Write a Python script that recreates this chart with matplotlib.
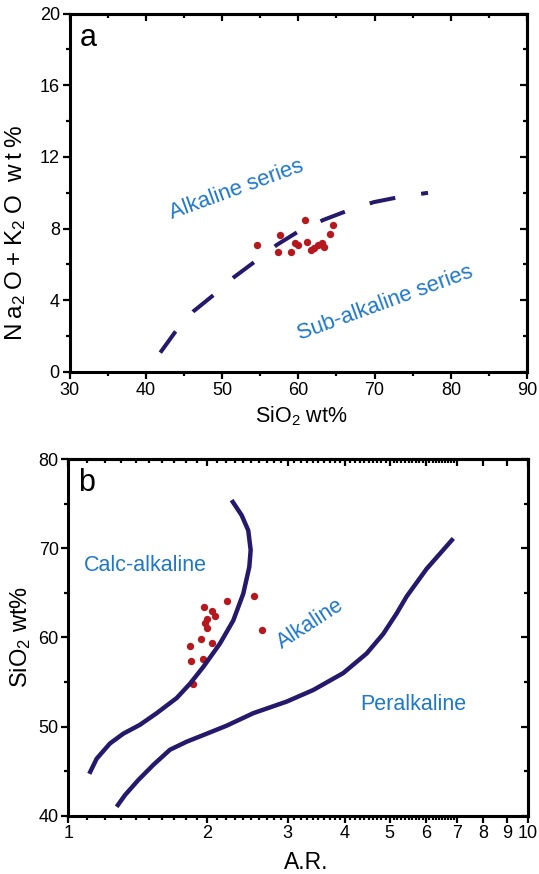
import matplotlib
matplotlib.use('Agg')
import matplotlib.pyplot as plt
import numpy as np

plt.rcParams['font.family'] = ['Liberation Sans', 'DejaVu Sans']
plt.rcParams['mathtext.fontset'] = 'custom'
plt.rcParams['mathtext.rm'] = 'Liberation Sans'

# panel a: TAS alkaline / sub-alkaline boundary and samples
line_a_x = [41.9, 43.8, 46.2, 48.9, 51.5, 54.3, 57.2, 60.0, 63.3, 66.5, 69.9, 73.2, 77.0]
line_a_y = [1.08, 2.2, 3.37, 4.3, 5.27, 6.16, 7.1, 7.84, 8.49, 9.01, 9.48, 9.76, 10.0]
sio2_a = [54.6, 57.6, 57.3, 59.1, 59.5, 59.9, 60.9, 61.1, 61.6, 62.0, 62.6, 63.1, 63.3, 64.2, 64.6]
alk_a = [7.09, 7.62, 6.72, 6.72, 7.22, 7.06, 8.49, 7.28, 6.82, 6.92, 7.09, 7.19, 7.0, 7.71, 8.21]

# panel b: Wright (1969) alkalinity ratio diagram
curve1_ar = [1.11, 1.152, 1.231, 1.316, 1.431, 1.556, 1.72, 1.838, 1.966, 2.136, 2.284, 2.401, 2.475, 2.492, 2.462, 2.382, 2.265]
curve1_si = [44.7, 46.4, 48.1, 49.2, 50.2, 51.5, 53.2, 54.8, 56.7, 59.3, 61.9, 64.9, 67.9, 69.8, 72.0, 73.7, 75.4]
curve2_ar = [1.273, 1.327, 1.419, 1.53, 1.663, 1.808, 2.0, 2.21, 2.525, 2.985, 3.41, 3.963, 4.457, 4.843, 5.18, 5.446, 6.02, 6.88]
curve2_si = [41.0, 42.3, 44.0, 45.7, 47.4, 48.3, 49.2, 50.1, 51.5, 52.8, 54.1, 56.0, 58.2, 60.4, 62.7, 64.6, 67.7, 71.1]
ar_b = [1.972, 2.049, 2.084, 2.0, 1.982, 2.0, 2.21, 2.533, 2.633, 1.94, 2.049, 1.838, 1.848, 1.966, 1.869]
sio2_b = [63.4, 63.0, 62.4, 62.1, 61.6, 61.0, 64.1, 64.6, 60.8, 59.8, 59.4, 59.0, 57.3, 57.6, 54.8]

navy = '#24196b'
red = '#b5191e'
blue = '#1e78c8'

fig = plt.figure(figsize=(5.39, 8.74), dpi=100)

# ---------- a ----------
ax1 = fig.add_axes([0.129, 0.5744, 0.849, 0.410])
ax1.scatter(sio2_a, alk_a, s=28, color=red, zorder=2, linewidths=0)
ax1.plot(line_a_x, line_a_y, color=navy, lw=2.9, linestyle=(0, (6.5, 6.5)), zorder=3)
ax1.set_xlim(30, 90)
ax1.set_ylim(0, 20)
ax1.set_xticks([30, 40, 50, 60, 70, 80, 90])
ax1.set_xticks([35, 45, 55, 65, 75, 85], minor=True)
ax1.set_yticks([0, 4, 8, 12, 16, 20])
ax1.set_yticks([2, 6, 10, 14, 18], minor=True)
ax1.set_xlabel(r'SiO$\mathregular{_2}$ wt%', fontsize=15.5)
ax1.xaxis.set_label_coords(0.507, -0.09)
ax1.set_ylabel(r'$\mathregular{N\:a_2\:O\:{+}\:K_2\:O\ \:w\:t\:\%}$', fontsize=17.5)
ax1.yaxis.set_label_coords(-0.09, 0.39)
ax1.text(0.022, 0.975, 'a', transform=ax1.transAxes, fontsize=22, va='top', ha='left')
ax1.text(51.9, 10.15, 'Alkaline series', color=blue, fontsize=15.8, rotation=20,
         ha='center', va='center', rotation_mode='anchor')
ax1.text(71.4, 3.85, 'Sub-alkaline series', color=blue, fontsize=15.8, rotation=20,
         ha='center', va='center', rotation_mode='anchor')

# ---------- b ----------
ax2 = fig.add_axes([0.127, 0.0667, 0.8525, 0.408])
ax2.set_xscale('log')
ax2.plot(curve1_ar, curve1_si, color=navy, lw=3.2, zorder=3, solid_capstyle='butt')
ax2.plot(curve2_ar, curve2_si, color=navy, lw=3.2, zorder=3, solid_capstyle='butt')
ax2.scatter(ar_b, sio2_b, s=28, color=red, zorder=2, linewidths=0)
ax2.set_xlim(1, 10)
ax2.set_ylim(40, 80)
xt = [1, 2, 3, 4, 5, 6, 7, 8, 9, 10]
ax2.set_xticks(xt)
ax2.set_xticklabels([str(v) for v in xt])
minor = [round(v, 1) for v in np.arange(1.1, 7.0, 0.1) if abs(v - round(v)) > 0.01]
ax2.set_xticks(minor, minor=True)
ax2.xaxis.set_minor_formatter(matplotlib.ticker.NullFormatter())
ax2.set_yticks([40, 50, 60, 70, 80])
ax2.set_yticks([45, 55, 65, 75], minor=True)
ax2.set_xlabel('A.R.', fontsize=16.5)
ax2.xaxis.set_label_coords(0.517, -0.1)
ax2.set_ylabel(r'SiO$\mathregular{_2}$ wt%', fontsize=17, labelpad=4)
ax2.text(0.022, 0.975, 'b', transform=ax2.transAxes, fontsize=22, va='top', ha='left')
ax2.text(1.08, 68.1, 'Calc-alkaline', color=blue, fontsize=15.5, ha='left', va='center')
ax2.text(3.36, 61.5, 'Alkaline', color=blue, fontsize=15.5, rotation=33,
         ha='center', va='center', rotation_mode='anchor')
ax2.text(5.62, 52.5, 'Peralkaline', color=blue, fontsize=15.5, ha='center', va='center')

for ax in (ax1, ax2):
    for sp in ax.spines.values():
        sp.set_linewidth(2.2)
    ax.tick_params(which='both', labelsize=13, width=1.6, direction='out',
                   top=False, right=False, pad=2)
    ax.tick_params(which='major', length=5)
    ax.tick_params(which='minor', length=3)
    # inward ticks on top and right edges
    sec_x = ax.secondary_xaxis('top')
    sec_x.set_xticks(ax.get_xticks())
    sec_x.set_xticks(ax.get_xticks(minor=True), minor=True)
    sec_x.tick_params(which='both', direction='in', labeltop=False, width=1.6)
    sec_x.tick_params(which='major', length=5)
    sec_x.tick_params(which='minor', length=3)
    sec_x.xaxis.set_minor_formatter(matplotlib.ticker.NullFormatter())
    sec_x.spines['top'].set_linewidth(2.2)
    sec_y = ax.secondary_yaxis('right')
    sec_y.set_yticks(ax.get_yticks())
    sec_y.set_yticks(ax.get_yticks(minor=True), minor=True)
    sec_y.tick_params(which='both', direction='in', labelright=False, width=1.6)
    sec_y.tick_params(which='major', length=5)
    sec_y.tick_params(which='minor', length=3)
    sec_y.spines['right'].set_linewidth(2.2)

fig.savefig('out.png', dpi=100)
